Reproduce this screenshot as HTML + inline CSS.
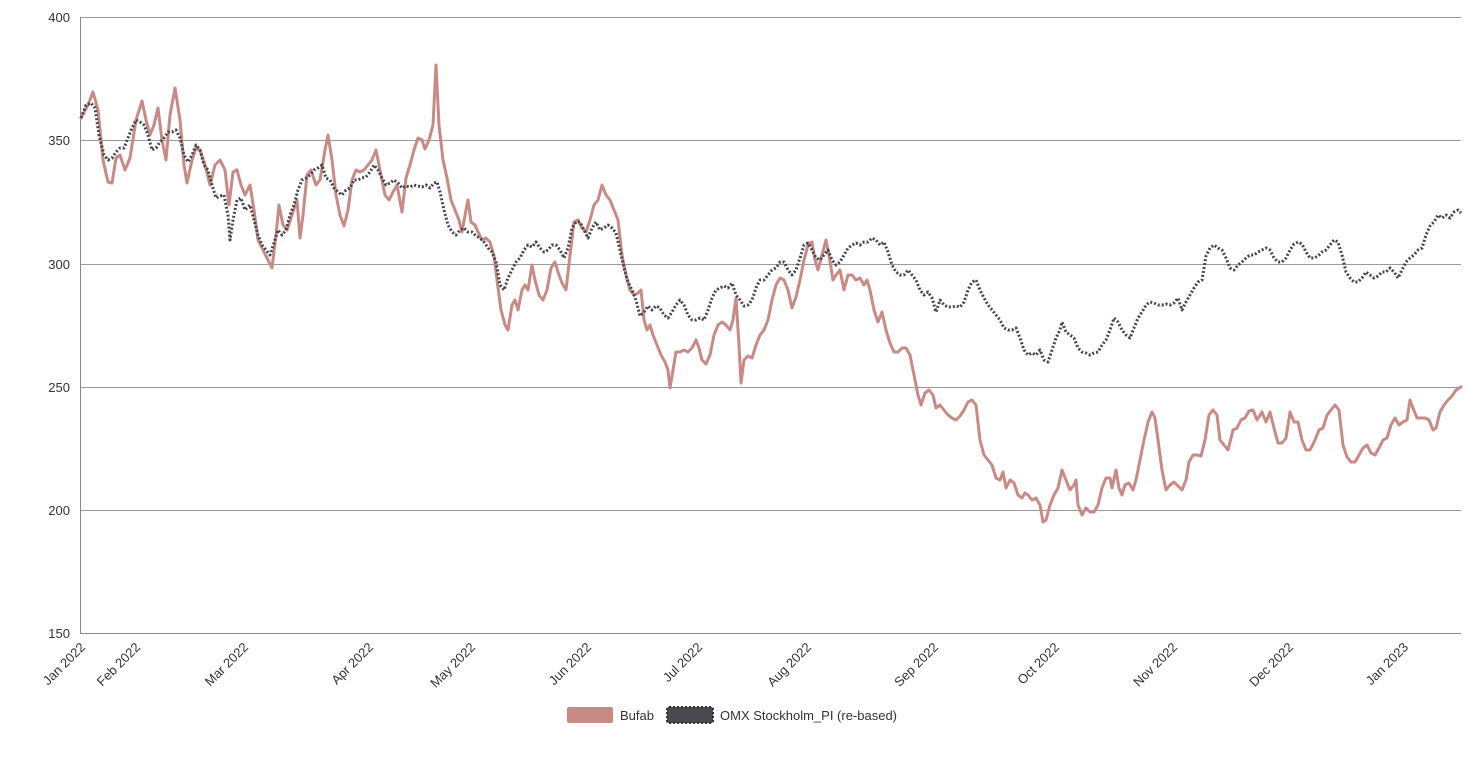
<!DOCTYPE html>
<html><head><meta charset="utf-8"><style>
body{margin:0;background:#fff;width:1472px;height:753px;overflow:hidden;font-family:"Liberation Sans",sans-serif}
</style></head><body>
<svg width="1472" height="753" xmlns="http://www.w3.org/2000/svg" font-family="Liberation Sans, sans-serif">
<g stroke="#9a9a9a" stroke-width="1">
<line x1="80" y1="17.5" x2="1461" y2="17.5"/>
<line x1="80" y1="140.5" x2="1461" y2="140.5"/>
<line x1="80" y1="264.5" x2="1461" y2="264.5"/>
<line x1="80" y1="387.5" x2="1461" y2="387.5"/>
<line x1="80" y1="510.5" x2="1461" y2="510.5"/>
<line x1="80" y1="633.5" x2="1461" y2="633.5" stroke="#888"/>
<line x1="80.5" y1="17" x2="80.5" y2="634" stroke="#888"/>
</g>
<g font-size="13" fill="#333" text-anchor="end">
<text x="70" y="22">400</text><text x="70" y="145">350</text><text x="70" y="269">300</text>
<text x="70" y="392">250</text><text x="70" y="515">200</text><text x="70" y="638">150</text>
</g>
<g font-size="13" fill="#333" text-anchor="end">
<text transform="translate(86,648) rotate(-45)">Jan 2022</text>
<text transform="translate(141,648) rotate(-45)">Feb 2022</text>
<text transform="translate(249,648) rotate(-45)">Mar 2022</text>
<text transform="translate(374,648) rotate(-45)">Apr 2022</text>
<text transform="translate(476,648) rotate(-45)">May 2022</text>
<text transform="translate(592,648) rotate(-45)">Jun 2022</text>
<text transform="translate(703,648) rotate(-45)">Jul 2022</text>
<text transform="translate(812,648) rotate(-45)">Aug 2022</text>
<text transform="translate(939,648) rotate(-45)">Sep 2022</text>
<text transform="translate(1060,648) rotate(-45)">Oct 2022</text>
<text transform="translate(1178,648) rotate(-45)">Nov 2022</text>
<text transform="translate(1294,648) rotate(-45)">Dec 2022</text>
<text transform="translate(1409,648) rotate(-45)">Jan 2023</text>
</g>
<polyline fill="none" stroke="#c98a85" stroke-width="3" stroke-linejoin="round" stroke-linecap="round" points="81,118 88,105 93,92 98,110 103,160 108,182 112,183 116,158 120,155 125,170 130,158 136,120 142,101 146,120 150,135 154,125 158,108 162,140 166,160 170,115 175,88 180,120 184,165 187,183 192,160 196,148 200,150 205,165 210,185 215,165 220,160 225,170 229,205 233,172 237,170 241,185 245,195 250,185 254,210 258,240 263,250 268,260 272,268 276,235 279,205 283,225 287,230 292,215 297,200 300,238 303,215 307,175 311,170 316,185 320,180 325,150 328,135 332,160 336,195 340,215 344,226 348,210 352,180 356,170 360,172 364,170 368,165 372,160 376,150 380,170 385,195 389,200 393,192 397,185 402,212 406,178 410,165 414,150 418,138 422,140 425,149 429,140 433,125 436,65 439,125 443,160 447,178 451,200 455,210 459,220 462,232 466,210 468,200 471,222 475,225 478,232 482,240 486,238 490,242 494,256 497,280 501,310 505,325 508,330 512,305 515,300 518,310 522,290 525,285 528,290 532,265 535,280 539,295 543,300 547,290 551,268 555,262 558,272 562,283 566,290 570,255 574,222 578,220 582,228 586,232 590,220 594,205 598,200 602,185 606,195 610,200 614,210 618,220 622,255 626,275 630,290 634,295 638,293 641,290 644,320 647,330 650,325 653,335 657,345 661,355 665,362 668,370 670,388 673,370 676,352 680,352 684,350 688,352 692,348 696,340 699,348 702,360 706,364 710,355 714,335 718,325 722,322 726,325 730,330 733,320 736,298 739,345 741,383 744,360 748,356 752,358 756,345 760,335 764,330 768,320 772,300 776,285 780,278 784,280 788,290 792,308 796,297 800,280 804,260 808,245 812,242 815,260 818,270 822,255 826,240 829,255 833,280 836,275 840,270 844,290 848,275 852,275 856,280 860,278 864,285 867,280 870,290 874,310 878,322 882,312 886,330 890,343 894,352 898,352 902,348 906,348 910,355 914,375 918,395 921,405 925,393 929,390 933,395 936,408 940,405 944,410 948,415 952,418 956,420 960,416 964,410 968,402 972,400 976,405 980,440 984,455 988,460 992,465 996,478 1000,480 1003,472 1006,488 1010,480 1014,483 1018,495 1022,498 1025,493 1028,495 1032,500 1036,498 1040,505 1043,522 1046,520 1050,505 1054,495 1058,488 1062,470 1066,480 1070,490 1074,485 1076,480 1078,505 1082,515 1086,508 1090,512 1094,512 1098,505 1102,488 1106,478 1110,478 1112,488 1116,470 1119,488 1122,495 1125,485 1129,483 1133,490 1136,480 1140,460 1144,440 1148,422 1152,412 1155,418 1158,440 1162,470 1166,490 1170,485 1174,482 1178,486 1182,490 1186,480 1189,462 1193,455 1197,455 1201,456 1205,440 1209,415 1213,410 1217,415 1220,440 1224,445 1228,450 1233,430 1237,428 1241,420 1245,418 1249,411 1253,410 1257,420 1262,412 1266,422 1270,412 1274,428 1278,443 1282,443 1286,438 1290,412 1294,422 1298,422 1302,440 1306,450 1310,450 1315,440 1319,430 1323,428 1327,415 1331,410 1335,405 1339,410 1343,445 1347,457 1351,462 1355,462 1359,455 1363,448 1367,445 1371,453 1375,455 1379,448 1383,440 1387,438 1391,425 1395,418 1399,425 1403,422 1407,420 1410,400 1413,408 1417,418 1421,418 1425,418 1429,420 1433,430 1436,428 1440,412 1444,405 1448,400 1452,396 1456,390 1461,387"/>
<polyline fill="none" stroke="#45454d" stroke-width="3" stroke-dasharray="2 2" stroke-linejoin="round" points="81,118 86,105 91,103 95,108 99,135 104,155 108,160 112,158 116,152 120,148 124,148 128,138 132,128 136,120 140,122 144,125 148,135 152,150 156,148 160,142 164,138 168,132 172,132 176,130 180,138 184,155 188,162 192,155 196,145 200,150 204,165 208,170 212,185 216,198 220,196 224,195 228,215 230,240 233,220 237,200 241,198 245,210 250,205 254,220 258,235 262,245 266,250 270,255 274,243 278,230 282,235 286,230 290,215 294,205 298,190 302,180 306,178 310,175 314,170 318,168 322,165 326,178 330,180 334,188 338,192 342,195 346,190 350,188 354,180 358,180 362,178 366,177 370,172 374,165 378,170 382,178 386,185 390,183 394,180 398,183 402,188 406,186 410,187 414,185 418,186 422,187 426,185 430,188 434,183 437,182 440,192 444,210 448,225 452,232 456,235 460,230 464,228 468,232 472,232 476,236 480,238 484,242 488,248 492,252 496,262 500,285 504,290 508,278 512,270 516,262 520,258 524,250 528,245 532,247 536,242 540,248 544,252 548,250 552,245 556,245 560,250 564,258 568,248 572,228 576,222 580,222 584,230 588,238 592,228 596,222 600,230 604,228 608,225 612,228 616,233 620,250 624,268 628,282 632,290 636,300 640,316 644,312 648,306 652,310 656,306 660,308 664,315 668,318 672,312 676,305 680,300 684,305 688,315 692,320 696,320 700,318 704,320 708,310 712,298 716,290 720,288 724,286 728,288 732,283 736,295 740,300 744,306 748,305 752,300 756,288 760,280 764,280 768,275 772,270 776,268 780,262 784,262 788,270 792,275 796,270 800,258 804,245 808,243 812,250 816,258 820,260 824,255 828,250 832,260 836,265 840,262 844,255 848,248 852,245 856,243 860,245 864,242 868,242 872,238 876,240 880,245 884,242 888,252 892,265 896,272 900,275 904,275 908,270 912,275 916,280 920,290 924,295 928,292 932,298 936,312 940,300 944,305 948,307 952,307 956,306 960,307 964,302 968,290 972,282 976,280 980,290 984,298 988,305 992,310 996,315 1000,320 1004,328 1008,330 1012,330 1016,328 1020,338 1024,350 1028,355 1032,353 1036,355 1040,350 1044,360 1048,362 1052,350 1056,338 1060,330 1062,322 1066,332 1070,335 1074,338 1078,348 1082,352 1086,353 1090,355 1094,353 1098,352 1102,345 1106,340 1110,330 1114,318 1118,322 1122,330 1126,335 1130,338 1134,328 1138,318 1142,312 1146,305 1150,302 1154,303 1158,305 1162,305 1166,304 1170,305 1174,303 1178,298 1182,310 1186,302 1190,295 1194,288 1198,282 1202,280 1206,256 1210,248 1214,245 1218,248 1222,250 1226,258 1230,268 1234,270 1238,265 1242,262 1246,258 1250,255 1254,255 1258,252 1262,250 1266,248 1270,250 1274,258 1278,262 1282,262 1286,258 1290,250 1294,244 1298,242 1302,244 1306,252 1310,258 1314,258 1318,256 1322,252 1326,250 1330,245 1334,240 1338,242 1342,255 1346,272 1350,278 1354,282 1358,282 1362,278 1366,272 1370,275 1374,278 1378,276 1382,272 1386,272 1390,268 1394,272 1398,278 1402,270 1406,262 1410,258 1414,255 1418,250 1422,248 1426,235 1430,226 1434,222 1438,215 1442,218 1446,215 1450,218 1454,212 1458,210 1461,213"/>
<rect x="567" y="707" width="46" height="16" rx="2" fill="#c98a85"/>
<text x="620" y="720" font-size="13" fill="#333">Bufab</text>
<rect x="667" y="707" width="46" height="16" rx="2" fill="#4a4950" stroke="#2e2e33" stroke-width="2" stroke-dasharray="2 2"/>
<text x="720" y="720" font-size="13" fill="#333">OMX Stockholm_PI (re-based)</text>
</svg>
</body></html>
